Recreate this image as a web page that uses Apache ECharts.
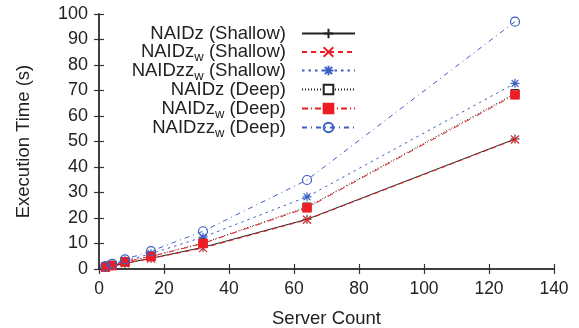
<!DOCTYPE html>
<html><head><meta charset="utf-8">
<script src="https://cdn.jsdelivr.net/npm/echarts@6/dist/echarts.min.js"></script>
<style>html,body{margin:0;padding:0;background:#fff}#c{width:579px;height:328px}</style>
</head><body><div id="c"></div>
<script>
const serverCounts = [2, 4, 8, 16, 32, 64, 128];
const naidzShallow   = [0.6, 1.1, 2.2, 4.2, 8.5, 19.5, 51.0];
const naidzwShallow  = [0.6, 1.1, 2.2, 4.1, 8.2, 19.3, 50.8];
const naidzzwShallow = [0.9, 1.6, 3.2, 6.0, 12.5, 28.3, 72.8];
const naidzDeep      = [0.8, 1.4, 2.8, 5.0, 10.2, 24.3, 68.8];
const naidzwDeep     = [0.8, 1.4, 2.8, 4.9, 10.0, 24.0, 68.3];
const naidzzwDeep    = [1.1, 2.0, 3.8, 7.0, 14.8, 34.9, 97.0];
const xTicks = [0, 20, 40, 60, 80, 100, 120, 140];
const yTicks = [0, 10, 20, 30, 40, 50, 60, 70, 80, 90, 100];

const names = ['NAIDz (Shallow)', 'NAIDz_w (Shallow)', 'NAIDzz_w (Shallow)', 'NAIDz (Deep)', 'NAIDz_w (Deep)', 'NAIDzz_w (Deep)'];
const labels = ['NAIDz (Shallow)', 'NAIDz{s|w} (Shallow)', 'NAIDzz{s|w} (Shallow)', 'NAIDz (Deep)', 'NAIDz{s|w} (Deep)', 'NAIDzz{s|w} (Deep)'];
const values = [naidzShallow, naidzwShallow, naidzzwShallow, naidzDeep, naidzwDeep, naidzzwDeep];

const FONT = 'Liberation Sans, Arial, sans-serif';
const BLACK = '#222', RED = '#ee1d24', BLUE = '#3d5fc4';
const PLUS = 'path://M5,0L5,10M0,5L10,5';
const CROSS = 'path://M0,0L10,10M10,0L0,10';
const STAR = 'path://M5,0L5,10M0,5L10,5M1.2,1.2L8.8,8.8M8.8,1.2L1.2,8.8';
const styles = [
  {color: BLACK, type: 'solid', symbol: PLUS, size: 9, fill: BLACK, border: BLACK, bw: 1},
  {color: RED, type: [5, 4], symbol: CROSS, size: 8, fill: RED, border: RED, bw: 1.2},
  {color: BLUE, type: [2.5, 4], symbol: STAR, size: 9, fill: BLUE, border: BLUE, bw: 1.2},
  {color: BLACK, type: [1, 2], symbol: 'rect', size: 8, fill: '#fff', border: BLACK, bw: 1},
  {color: RED, type: [6, 3, 1, 3], symbol: 'rect', size: 9, fill: RED, border: RED, bw: 0.5},
  {color: BLUE, type: [5, 4, 1, 4], symbol: 'circle', size: 9, fill: 'rgba(255,255,255,0)', border: BLUE, bw: 1.2}
];

const series = names.map((n, i) => ({
  name: n, type: 'line', xAxisIndex: 0, yAxisIndex: 0,
  data: serverCounts.map((x, j) => [x, values[i][j]]),
  symbol: styles[i].symbol, symbolSize: styles[i].size,
  lineStyle: {color: styles[i].color, type: styles[i].type, width: 1},
  itemStyle: {color: styles[i].fill, borderColor: styles[i].border, borderWidth: styles[i].bw},
  z: 2 + i, animation: false
}));

const rowCenters = [32, 50.5, 69, 88, 107, 126];
const legends = names.map((n, i) => ({
  data: [n], orient: 'vertical', align: 'right', right: 218, top: rowCenters[i] - 13,
  itemWidth: 53, itemHeight: 12, padding: 5,
  formatter: () => labels[i],
  textStyle: {fontFamily: FONT, fontSize: 18.5, color: '#222',
    padding: [0, 11, 0, 0],
    rich: {s: {fontSize: 13, fontFamily: FONT, color: '#222', padding: [11, 0, 0, 0]}}}
}));

const axisLine = {show: true, lineStyle: {color: '#333', width: 1.5}};
const axisTick = {show: true, inside: true, length: 5, lineStyle: {color: '#333', width: 1.2}};

const option = {
  backgroundColor: '#fff', animation: false,
  grid: {left: 99, right: 25, top: 14, bottom: 59, containLabel: false, outerBoundsMode: 'none'},
  legend: legends,
  xAxis: [
    {type: 'value', min: xTicks[0], max: xTicks[xTicks.length - 1], interval: 20, position: 'bottom',
     axisLine, axisTick, splitLine: {show: false},
     axisLabel: {margin: 11, fontFamily: FONT, fontSize: 17.5, color: '#222'},
     name: 'Server Count', nameLocation: 'middle', nameGap: 40,
     nameTextStyle: {fontFamily: FONT, fontSize: 18.5, color: '#222'}},
    {type: 'value', min: xTicks[0], max: xTicks[xTicks.length - 1], interval: 20, position: 'top',
     axisLine, axisTick, splitLine: {show: false}, axisLabel: {show: false}}
  ],
  yAxis: [
    {type: 'value', min: yTicks[0], max: yTicks[yTicks.length - 1], interval: 10, position: 'left',
     axisLine, axisTick, splitLine: {show: false},
     axisLabel: {margin: 11, fontFamily: FONT, fontSize: 18, color: '#222'},
     name: 'Execution Time (s)', nameLocation: 'middle', nameGap: 66, nameRotate: 90,
     nameTextStyle: {fontFamily: FONT, fontSize: 18.5, color: '#222'}},
    {type: 'value', min: yTicks[0], max: yTicks[yTicks.length - 1], interval: 10, position: 'right',
     axisLine, axisTick, splitLine: {show: false}, axisLabel: {show: false}}
  ],
  series
};
const chart = echarts.init(document.getElementById('c'), null, {renderer: 'canvas'});
chart.setOption(option);
</script></body></html>
